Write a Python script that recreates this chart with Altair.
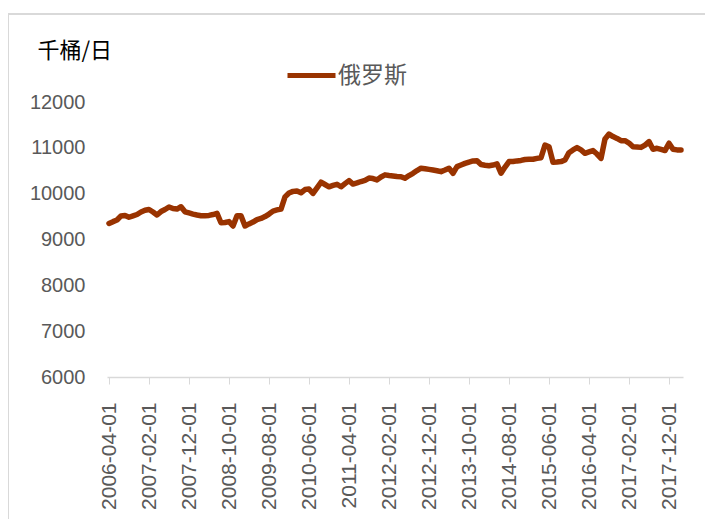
import altair as alt
import pandas as pd

# monthly categories 2006-04 .. 2018-03
dates = pd.date_range("2006-04-01", periods=144, freq="MS").strftime("%Y-%m-%d").tolist()

values = [
    9350, 9390, 9425, 9515, 9525, 9485, 9515, 9545, 9600, 9637,
    9655, 9600, 9535, 9610, 9655, 9710, 9675, 9665, 9715, 9605,
    9580, 9555, 9535, 9520, 9520, 9525, 9545, 9570, 9365, 9370,
    9390, 9295, 9520, 9520, 9295, 9340, 9380, 9435, 9460, 9500,
    9555, 9620, 9645, 9665, 9930, 10015, 10050, 10060, 10020, 10090,
    10100, 10005, 10125, 10250, 10200, 10150, 10180, 10205, 10150, 10220,
    10285, 10210, 10235, 10265, 10290, 10340, 10330, 10300, 10365, 10410,
    10395, 10385, 10375, 10370, 10335, 10395, 10445, 10505, 10555, 10545,
    10530, 10515, 10500, 10480, 10515, 10555, 10445, 10590, 10625, 10660,
    10690, 10715, 10720, 10635, 10620, 10610, 10625, 10650, 10445, 10580,
    10700, 10700, 10715, 10725, 10745, 10750, 10750, 10770, 10785, 11060,
    11025, 10685, 10690, 10700, 10735, 10895, 10955, 11005, 10955, 10880,
    10910, 10940, 10865, 10770, 11195, 11300, 11245, 11205, 11155, 11155,
    11105, 11025, 11020, 11010, 11060, 11135, 10970, 10990, 10965, 10940,
    11100, 10970, 10955, 10955,
]

tick_labels = [
    "2006-04-01", "2007-02-01", "2007-12-01", "2008-10-01", "2009-08-01",
    "2010-06-01", "2011-04-01", "2012-02-01", "2012-12-01", "2013-10-01",
    "2014-08-01", "2015-06-01", "2016-04-01", "2017-02-01", "2017-12-01",
]
y_ticks = [6000, 7000, 8000, 9000, 10000, 11000, 12000]
series_name = "俄罗斯"
unit = "千桶/日"

df = pd.DataFrame({"date": dates, "value": values, "series": series_name})

LATIN = "Liberation Sans"
CJK = "Noto Sans CJK SC"

line = alt.Chart(df).mark_line(strokeWidth=5.5, strokeJoin="round", strokeCap="round").encode(
    x=alt.X(
        "date:O",
        sort=None,
        scale=alt.Scale(type="point", padding=0.5),
        axis=alt.Axis(
            values=tick_labels,
            labelAngle=-90,
            labelFont=LATIN,
            labelFontSize=21,
            labelColor="#595959",
            labelPadding=18,
            tickSize=7,
            tickColor="#d9d9d9",
            domainColor="#d9d9d9",
            domainWidth=1.5,
            grid=False,
            title=None,
        ),
    ),
    y=alt.Y(
        "value:Q",
        scale=alt.Scale(domain=[6000, 12000], nice=False, zero=False),
        axis=alt.Axis(
            values=y_ticks,
            format="d",
            labelFont=LATIN,
            labelFontSize=20,
            labelColor="#595959",
            labelPadding=22,
            ticks=False,
            domain=False,
            grid=False,
            title=unit,
            titleAngle=0,
            titleAlign="left",
            titleBaseline="alphabetic",
            titleX=-70,
            titleY=-45,
            titleFont=CJK,
            titleFontSize=22,
            titleFontWeight="normal",
            titleColor="#000000",
        ),
    ),
    color=alt.Color(
        "series:N",
        scale=alt.Scale(range=["#993300"]),
        legend=alt.Legend(
            title=None,
            orient="none",
            legendX=178,
            legendY=-53,
            symbolType="stroke",
            symbolSize=2304,
            symbolStrokeWidth=5,
            labelFont=CJK,
            labelFontSize=23,
            labelColor="#595959",
            labelOffset=0,
            padding=0,
        ),
    ),
)

frame = alt.Chart(alt.Data(values=[{}])).mark_rect(
    fill="transparent", stroke="#d9d9d9", strokeWidth=2
).encode(
    x=alt.value(-99), x2=alt.value(800), y=alt.value(-88), y2=alt.value(800)
)

chart = alt.layer(frame, line).properties(
    width=576,
    height=275,
    padding={"left": 99, "top": 94, "right": 22, "bottom": 142},
    autosize=alt.AutoSizeParams(type="none"),
    background="white",
).configure_view(stroke=None)

chart.save("out.html", embed_options={"renderer": "svg", "actions": False})
